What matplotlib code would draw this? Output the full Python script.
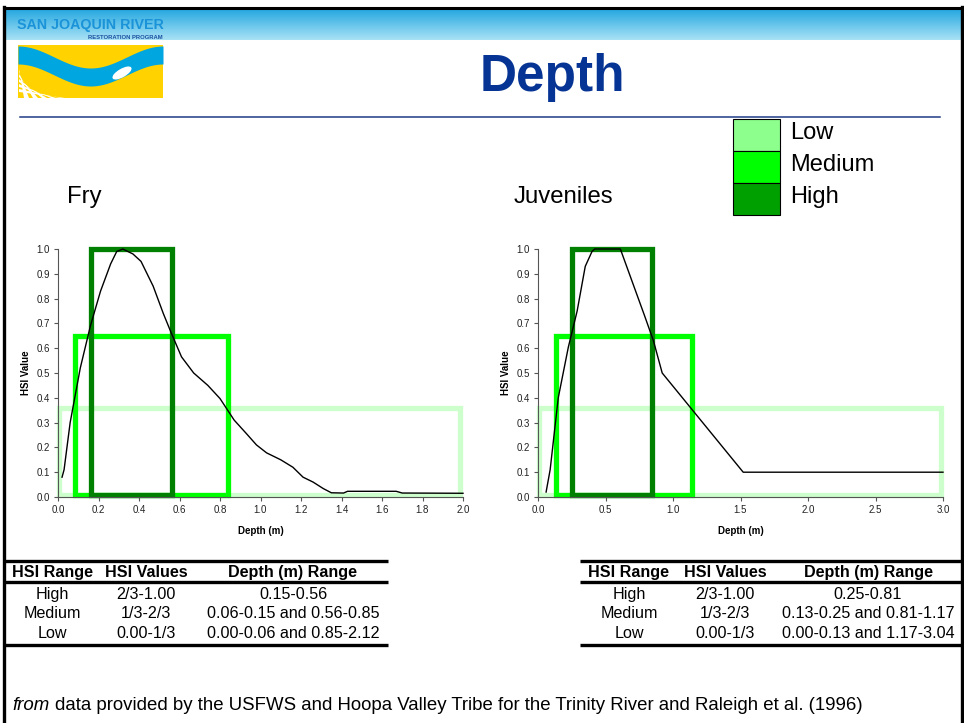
import matplotlib

matplotlib.use("Agg")
import matplotlib.pyplot as plt
import numpy as np
from matplotlib.patches import Rectangle, Ellipse, Polygon

plt.rcParams["font.family"] = ["Liberation Sans", "DejaVu Sans"]

# --- data -------------------------------------------------------------
band_names = ["Low", "Medium", "High"]
band_colors = ["#ccffcc", "#00ff00", "#008000"]
legend_colors = ["#8cff8c", "#00ff00", "#00a000"]
band_tops = [0.36, 0.65, 1.0]

fry_band_x0 = [0.005, 0.085, 0.165]
fry_band_x1 = [1.985, 0.84, 0.565]
juv_band_x0 = [0.005, 0.13, 0.255]
juv_band_x1 = [2.985, 1.14, 0.845]

fry_depth = [0.02, 0.03, 0.06, 0.11, 0.16, 0.21, 0.26, 0.29, 0.32, 0.37, 0.41, 0.47,
             0.52, 0.56, 0.61, 0.67, 0.74, 0.80, 0.87, 0.93, 0.98, 1.03, 1.10, 1.16,
             1.21, 1.26, 1.31, 1.35, 1.41, 1.43, 1.67, 1.70, 2.0]
fry_hsi = [0.08, 0.11, 0.30, 0.52, 0.69, 0.83, 0.94, 0.99, 1.0, 0.98, 0.95, 0.85,
           0.74, 0.66, 0.565, 0.50, 0.45, 0.397, 0.31, 0.256, 0.21, 0.178, 0.15, 0.12,
           0.08, 0.06, 0.034, 0.017, 0.016, 0.023, 0.023, 0.016, 0.015]

juv_depth = [0.06, 0.09, 0.15, 0.225, 0.29, 0.35, 0.40, 0.42, 0.61, 0.71, 0.79, 0.855,
             0.92, 1.52, 3.0]
juv_hsi = [0.02, 0.11, 0.40, 0.605, 0.75, 0.93, 0.99, 1.0, 1.0, 0.85, 0.73, 0.63,
           0.50, 0.10, 0.10]

table_header = ["HSI Range", "HSI Values", "Depth (m) Range"]
table_ranges = ["High", "Medium", "Low"]
table_values = ["2/3-1.00", "1/3-2/3", "0.00-1/3"]
fry_depth_ranges = ["0.15-0.56", "0.06-0.15 and 0.56-0.85", "0.00-0.06 and 0.85-2.12"]
juv_depth_ranges = ["0.25-0.81", "0.13-0.25 and 0.81-1.17", "0.00-0.13 and 1.17-3.04"]

W, H = 964, 723
fig = plt.figure(figsize=(W / 100, H / 100), dpi=100)


def px_axes(x0, y0, x1, y1):
    return fig.add_axes([x0 / W, 1 - y1 / H, (x1 - x0) / W, (y1 - y0) / H])


# background / slide furniture in pixel coords
bg = fig.add_axes([0, 0, 1, 1])
grad = np.linspace(0, 1, 60)[:, None, None]
top_c = np.array([0x29, 0xa9, 0xe1]) / 255
bot_c = np.array([0xa8, 0xe2, 0xf5]) / 255
bg.imshow(top_c + (bot_c - top_c) * grad, extent=(4, 962, 40, 10), aspect="auto")
bg.set_xlim(0, W)
bg.set_ylim(H, 0)
bg.axis("off")
bg.plot([3, 963], [8, 8], color="black", lw=2.2, solid_capstyle="butt")
bg.plot([4, 4], [7, H], color="black", lw=2.4)
bg.plot([962, 962], [7, H], color="black", lw=2.4)
bg.plot([20, 940], [117, 117], color="#1f3b85", lw=1.1)

bg.text(552, 77, "Depth", ha="center", va="center", fontsize=37, fontweight="bold",
        color="#063494")

# logo (rough sketch of the programme badge)
logo = px_axes(18, 18, 163, 98)
logo.set_xlim(0, 145)
logo.set_ylim(80, 0)
logo.axis("off")
logo.add_patch(Rectangle((0, 27), 145, 53, color="#ffd200", lw=0))
xs = np.linspace(0, 145, 100)
centre = 37 + 22 * np.sin(np.pi * xs / 145) ** 2
logo.fill_between(xs, centre - 9, centre + 9, color="#00a6e0", lw=0)
for k in range(5):
    logo.add_patch(Polygon([[6 + k * 9, 80], [11 + k * 9, 80], [1, 54 + k * 5], [1, 51 + k * 5]],
                           color="white", lw=0))
logo.add_patch(Ellipse((104, 55), 20, 7, angle=-30, color="white"))
logo.text(72, 7, "SAN JOAQUIN RIVER", fontsize=10.3, fontweight="bold", color="#1b93d8",
          va="center", ha="center")
logo.text(145, 20, "RESTORATION PROGRAM", fontsize=4.2, fontweight="bold", color="#1b4fa0",
          va="center", ha="right")

# legend boxes
box_y = [119, 151, 183]
text_y = [133, 165, 197]
for name, col, y0, ty in zip(band_names, legend_colors, box_y, text_y):
    bg.add_patch(Rectangle((733, y0), 47, 32, facecolor=col, edgecolor="black", lw=0.8))
    bg.text(790, ty, name, fontsize=17, va="center", ha="left")

bg.text(67, 197, "Fry", fontsize=17.2, va="center", ha="left")
bg.text(514, 197, "Juveniles", fontsize=17.2, va="center", ha="left")


def hsi_panel(ax, depth, hsi, x0s, x1s, xmax, xstep):
    for x0, x1, top, col in zip(x0s, x1s, band_tops, band_colors):
        ax.add_patch(Rectangle((x0, 0.008), x1 - x0, top - 0.008, fill=False, ec=col,
                               lw=3.8, joinstyle="miter", clip_on=False))
    ax.plot(depth, hsi, color="black", lw=1.0, clip_on=False)
    ax.set_xlim(0, xmax)
    ax.set_ylim(0, 1)
    xt = np.arange(0, xmax + 1e-9, xstep)
    ax.set_xticks(xt)
    ax.set_xticklabels([f"{v:.1f}" for v in xt])
    yt = np.arange(0, 1.01, 0.1)
    ax.set_yticks(yt)
    ax.set_yticklabels([f"{v:.1f}" for v in yt])
    for s in ["top", "right"]:
        ax.spines[s].set_visible(False)
    for s in ["left", "bottom"]:
        ax.spines[s].set_color("#555555")
        ax.spines[s].set_linewidth(0.8)
    ax.tick_params(labelsize=7, colors="#555555", labelcolor="#222222", length=3,
                   width=0.8, pad=3)
    ax.set_xlabel("Depth (m)", fontsize=7, fontweight="bold", labelpad=8)
    ax.set_ylabel("HSI Value", fontsize=7, fontweight="bold", labelpad=4)
    ax.patch.set_alpha(0)


ax_fry = px_axes(58, 249, 463, 497)
hsi_panel(ax_fry, fry_depth, fry_hsi, fry_band_x0, fry_band_x1, 2.0, 0.2)
ax_juv = px_axes(538, 249, 943, 497)
hsi_panel(ax_juv, juv_depth, juv_hsi, juv_band_x0, juv_band_x1, 3.0, 0.5)


def draw_table(x_left, x_right, cols, depth_ranges):
    for y in [561, 582, 645]:
        bg.plot([x_left, x_right], [y, y], color="black", lw=2.4, solid_capstyle="butt")
    for cx, label in zip(cols, table_header):
        bg.text(cx, 577, label, fontsize=11.6, fontweight="bold", ha="center", va="baseline")
    for ry, r, v, d in zip([599, 618, 638], table_ranges, table_values, depth_ranges):
        for cx, label in zip(cols, [r, v, d]):
            bg.text(cx, ry, label, fontsize=11.6, ha="center", va="baseline")


draw_table(4, 388, [52, 146, 293], fry_depth_ranges)
draw_table(580, 962, [629, 725, 868], juv_depth_ranges)

bg.text(12, 705, "from", fontsize=13.4, style="italic", ha="left", va="center")
bg.text(55, 705, "data provided by the USFWS and Hoopa Valley Tribe for the Trinity River "
        "and Raleigh et al. (1996)", fontsize=13.4, ha="left", va="center")

fig.savefig("out.png", dpi=100)
